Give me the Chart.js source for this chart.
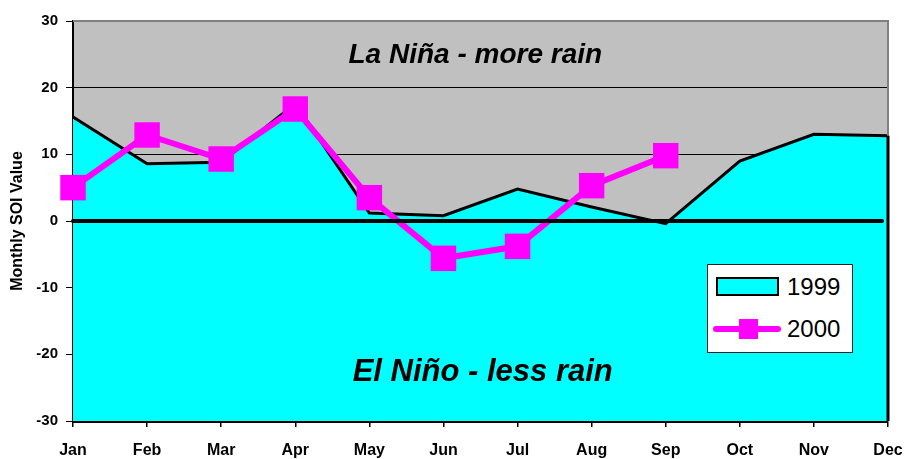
<!DOCTYPE html>
<html>
<head>
<meta charset="utf-8">
<script src="https://cdn.jsdelivr.net/npm/chart.js@4.4.1/dist/chart.umd.min.js"></script>
<style>
  html, body { margin: 0; padding: 0; background: #fff; overflow: hidden; }
  #wrap { position: relative; width: 906px; height: 470px; }
  #legend {
    position: absolute; left: 707px; top: 264px; width: 146px; height: 89px;
    border: 1px solid #222; background: #fff; box-sizing: border-box;
    font-family: 'Liberation Sans', Arial, sans-serif; font-size: 24px; color: #000;
  }
  .item { position: absolute; left: 0; width: 100%; height: 30px; }
  .item span { position: absolute; left: 79px; top: 0; line-height: 30px; }
  .swatch { position: absolute; left: 8px; top: 5px; width: 63px; height: 19px; box-sizing: border-box;
            border: 2.5px solid #000; background: #00ffff; }
  .line { position: absolute; left: 5px; top: 12px; width: 68px; height: 6px; border-radius: 3px; background: #ff00ff; }
  .mark { position: absolute; left: 31px; top: 5px; width: 19px; height: 20px; background: #ff00ff; }
</style>
</head>
<body>
<div id="wrap">
  <canvas id="soiChart" width="906" height="470"></canvas>
  <div id="legend"></div>
</div>
<script>
// data
const months = ['Jan', 'Feb', 'Mar', 'Apr', 'May', 'Jun', 'Jul', 'Aug', 'Sep', 'Oct', 'Nov', 'Dec'];
const soi1999 = [15.6, 8.6, 8.8, 17.6, 1.2, 0.8, 4.8, 2.1, -0.4, 9.0, 13.0, 12.8];
const soi2000 = [5.0, 12.9, 9.3, 16.8, 3.5, -5.6, -3.8, 5.3, 9.8];
const yTicks = [-30, -20, -10, 0, 10, 20, 30];
const seriesNames = ['1999', '2000'];
const notes = [
    { text: 'La Niña - more rain', x: 5.43, y: 23.7, size: 28 },
    { text: 'El Niño - less rain', x: 5.53, y: -24.0, size: 31 }
];

const FONT = "'Liberation Sans', Arial, sans-serif";

// grey plot background, borders, zero line and the two notes
const decorPlugin = {
    id: 'decor',
    beforeDraw(chart) {
        const { ctx, chartArea: a } = chart;
        ctx.save();
        ctx.fillStyle = '#c0c0c0';
        ctx.fillRect(a.left, a.top, a.right - a.left, a.bottom - a.top);
        ctx.restore();
    },
    afterDatasetsDraw(chart) {
        const { ctx, chartArea: a, scales } = chart;
        ctx.save();
        // top / right border
        ctx.strokeStyle = '#808080';
        ctx.lineWidth = 2;
        ctx.beginPath();
        ctx.moveTo(a.left, a.top);
        ctx.lineTo(a.right, a.top);
        ctx.lineTo(a.right, a.bottom);
        ctx.stroke();
        // area outline on the right edge
        const last = chart.getDatasetMeta(0).data[months.length - 1];
        ctx.strokeStyle = '#000';
        ctx.lineWidth = 3;
        ctx.beginPath();
        ctx.moveTo(a.right, last.y);
        ctx.lineTo(a.right, a.bottom);
        ctx.stroke();
        // zero line
        const y0 = scales.y.getPixelForValue(0);
        ctx.lineWidth = 4;
        ctx.lineCap = 'round';
        ctx.beginPath();
        ctx.moveTo(a.left, y0);
        ctx.lineTo(a.right - 6, y0);
        ctx.stroke();
        // notes
        ctx.fillStyle = '#000';
        ctx.textAlign = 'center';
        ctx.textBaseline = 'alphabetic';
        notes.forEach(n => {
            ctx.font = 'italic bold ' + n.size + 'px ' + FONT;
            ctx.fillText(n.text, scales.x.getPixelForValue(n.x), scales.y.getPixelForValue(n.y));
        });
        ctx.restore();
    }
};

const ctx = document.getElementById('soiChart');
const chart = new Chart(ctx.getContext('2d'), {
    type: 'line',
    data: {
        labels: months,
        datasets: [{
            label: seriesNames[0],
            data: soi1999,
            borderColor: '#000',
            borderWidth: 3,
            backgroundColor: '#00ffff',
            fill: 'start',
            pointRadius: 0,
            tension: 0,
            order: 2
        }, {
            label: seriesNames[1],
            data: soi2000,
            borderColor: '#ff00ff',
            borderWidth: 6,
            backgroundColor: '#ff00ff',
            fill: false,
            pointStyle: 'rect',
            pointRadius: 18,
            pointBorderWidth: 0,
            pointBackgroundColor: '#ff00ff',
            tension: 0,
            order: 1
        }]
    },
    options: {
        responsive: false,
        animation: false,
        layout: { padding: { left: 0, right: 14, top: 21, bottom: 0 } },
        scales: {
            x: {
                offset: false,
                afterFit: s => { s.height = 49; s.paddingLeft = 0; s.paddingRight = 0; },
                grid: { drawOnChartArea: false, color: '#000', tickLength: 6, lineWidth: 1.5 },
                border: { color: '#000', width: 3 },
                ticks: {
                    color: '#000', padding: 14, maxRotation: 0, autoSkip: false,
                    font: { family: FONT, size: 16, weight: 'bold' }
                }
            },
            y: {
                min: -30,
                max: 30,
                afterFit: s => { s.width = 73; },
                afterBuildTicks: s => { s.ticks = yTicks.map(v => ({ value: v })); },
                grid: {
                    color: c => c.tick && c.tick.value === 30 ? '#808080' : '#000',
                    tickColor: '#000',
                    tickLength: 7,
                    lineWidth: 1
                },
                border: { color: '#000', width: 2 },
                title: {
                    display: true,
                    text: 'Monthly SOI Value',
                    color: '#000',
                    padding: { top: 8, bottom: 0 },
                    font: { family: FONT, size: 16, weight: 'bold' }
                },
                ticks: {
                    color: '#000', padding: 8,
                    font: { family: FONT, size: 15, weight: 'bold' }
                }
            }
        },
        plugins: {
            legend: { display: false },
            tooltip: { enabled: false }
        }
    },
    plugins: [decorPlugin]
});

// boxed legend inside the plot
const legend = document.getElementById('legend');
seriesNames.forEach((name, i) => {
    const item = document.createElement('div');
    item.className = 'item';
    item.style.top = (i === 0 ? 7 : 49) + 'px';
    item.innerHTML = i === 0
        ? '<div class="swatch"></div>'
        : '<div class="line"></div><div class="mark"></div>';
    const label = document.createElement('span');
    label.textContent = name;
    item.appendChild(label);
    legend.appendChild(item);
});
</script>
</body>
</html>
